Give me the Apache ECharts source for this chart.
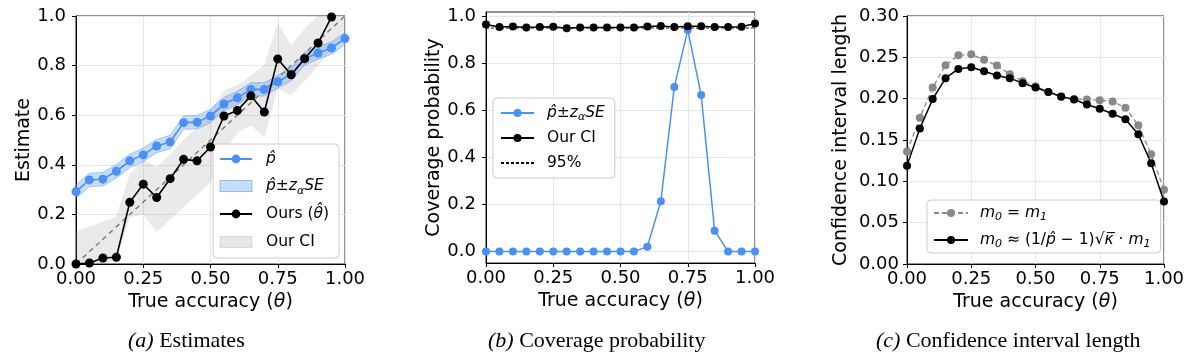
<!DOCTYPE html>
<html>
<head>
<meta charset="utf-8">
<script src="https://cdn.jsdelivr.net/npm/echarts@6/dist/echarts.min.js"></script>
<style>
html,body{margin:0;padding:0;background:#fff;}
#chart{width:1200px;height:357px;}
</style>
</head>
<body>
<div id="chart"></div>
<script>
// ---------- data ----------
const xs = [0, 0.05, 0.10, 0.15, 0.20, 0.25, 0.30, 0.35, 0.40, 0.45, 0.50, 0.55, 0.60, 0.65, 0.70, 0.75, 0.80, 0.85, 0.90, 0.95, 1.00];

// (a) Estimates
const pHat     = [0.292, 0.339, 0.342, 0.374, 0.416, 0.440, 0.476, 0.492, 0.570, 0.572, 0.597, 0.645, 0.670, 0.704, 0.704, 0.735, 0.765, 0.828, 0.851, 0.871, 0.909];
const pHatLow  = [0.265, 0.312, 0.315, 0.347, 0.389, 0.413, 0.449, 0.465, 0.543, 0.545, 0.570, 0.618, 0.643, 0.677, 0.677, 0.709, 0.739, 0.802, 0.826, 0.846, 0.885];
const pHatHigh = [0.319, 0.366, 0.369, 0.401, 0.443, 0.467, 0.503, 0.519, 0.597, 0.599, 0.624, 0.672, 0.697, 0.731, 0.731, 0.761, 0.791, 0.854, 0.876, 0.896, 0.933];
const thetaHat = [0.000, 0.004, 0.024, 0.027, 0.249, 0.322, 0.268, 0.344, 0.422, 0.416, 0.472, 0.597, 0.619, 0.678, 0.613, 0.827, 0.763, 0.828, 0.891, 0.996, 1.050];
const ciLow    = [0.000, 0.000, 0.000, 0.020, 0.190, 0.200, 0.130, 0.180, 0.230, 0.280, 0.330, 0.450, 0.530, 0.560, 0.510, 0.710, 0.680, 0.740, 0.800, 0.870, 0.920];
const ciHigh   = [0.130, 0.150, 0.170, 0.190, 0.360, 0.420, 0.390, 0.440, 0.500, 0.550, 0.620, 0.700, 0.720, 0.760, 0.800, 0.970, 0.880, 0.950, 1.000, 1.050, 1.080];
const diagX    = [0, 1];
const diagY    = [0, 1];

// (b) Coverage probability
const covNaive = [0, 0, 0, 0, 0, 0, 0, 0, 0, 0, 0, 0, 0.021, 0.214, 0.699, 0.942, 0.665, 0.089, 0, 0, 0];
const covOurs  = [0.965, 0.954, 0.956, 0.952, 0.954, 0.955, 0.949, 0.952, 0.952, 0.952, 0.952, 0.952, 0.956, 0.958, 0.954, 0.957, 0.957, 0.954, 0.954, 0.955, 0.969];
const nominalX = [0, 1];
const nominalY = [0.95, 0.95];

// (c) Confidence interval length
const lenEqual  = [0.136, 0.177, 0.2135, 0.2405, 0.2525, 0.2537, 0.247, 0.240, 0.2296, 0.2212, 0.215, 0.208, 0.202, 0.1995, 0.199, 0.198, 0.1966, 0.189, 0.1677, 0.1327, 0.0897];
const lenApprox = [0.119, 0.164, 0.1995, 0.2248, 0.236, 0.238, 0.2332, 0.228, 0.2248, 0.2188, 0.2135, 0.208, 0.2027, 0.199, 0.193, 0.1878, 0.1818, 0.175, 0.157, 0.1219, 0.0756];

// tick labels
const xTicks  = [0, 0.25, 0.5, 0.75, 1.0];
const yTicksA = [0, 0.2, 0.4, 0.6, 0.8, 1.0];
const yTicksB = [0, 0.2, 0.4, 0.6, 0.8, 1.0];
const yTicksC = [0, 0.05, 0.10, 0.15, 0.20, 0.25, 0.30];

// legend / caption texts
const legendText = {
  a_p: '{i|p̂}',
  a_band: '{i|p̂}±{i|z}{sub|α}{i|SE}',
  a_theta: 'Ours ({i|θ̂})',
  a_ci: 'Our CI',
  b_naive: '{i|p̂}±{i|z}{sub|α}{i|SE}',
  b_ours: 'Our CI',
  b_nom: '95%',
  c_eq: '{i|m}{sub|0} = {i|m}{sub|1}',
  c_approx: '{i|m}{sub|0} ≈ (1/{i|p̂} − 1)√{i|κ̅} · {i|m}{sub|1}'
};
const captions = ['{i|(a)} Estimates', '{i|(b)} Coverage probability', '{i|(c)} Confidence interval length'];
const xTitle = '{n|True accuracy (}{i|θ}{n|)}';
const yTitles = ['Estimate', 'Coverage probability', 'Confidence interval length'];

// ---------- helpers ----------
const FONT = 'DejaVu Sans';
const pairs = (x, y) => x.map((v, i) => [v, y[i]]);
const BLUE = '#4a90f5';
const GRAYL = '#888888';

const richLegend = {
  i: {fontStyle: 'italic', fontFamily: FONT, fontSize: 15.5, lineHeight: 20, color: '#000'},
  sub: {fontStyle: 'italic', fontFamily: FONT, fontSize: 11, lineHeight: 11, verticalAlign: 'bottom', color: '#000'}
};

// filled band between lo and hi, drawn through the axis scales (api.coord)
function bandSeries(name, gi, lo, hi, fill, stroke, z) {
  return {
    type: 'custom', name: name, xAxisIndex: gi, yAxisIndex: gi, z: z, silent: true,
    itemStyle: {color: fill},
    data: xs.map((x, i) => [x, lo[i], hi[i]]),
    encode: {x: 0, y: [1, 2]},
    renderItem: function (params, api) {
      if (params.dataIndex !== 0) return null;
      const upper = xs.map((x, i) => api.coord([x, hi[i]]));
      const lower = xs.map((x, i) => api.coord([x, lo[i]])).reverse();
      const cs = params.coordSys;
      return {
        type: 'polygon',
        shape: {points: upper.concat(lower)},
        style: {fill: fill, stroke: stroke, lineWidth: 1},
        clipPath: {type: 'rect', shape: {x: cs.x, y: cs.y, width: cs.width, height: cs.height}}
      };
    }
  };
}

function xAxisCfg(gi) {
  return {
    type: 'value', gridIndex: gi, min: 0, max: 1, interval: 0.25,
    name: xTitle, nameLocation: 'middle', nameGap: 26,
    nameTextStyle: {fontFamily: FONT, fontSize: 19, color: '#000',
      rich: {n: {fontFamily: FONT, fontSize: 19, color: '#000'}, i: {fontFamily: FONT, fontSize: 19, fontStyle: 'italic', color: '#000'}}},
    axisLine: {show: true, onZero: false, lineStyle: {color: '#000', width: 1}},
    axisTick: {show: true, inside: false, length: 4, lineStyle: {color: '#000'}},
    axisLabel: {fontFamily: FONT, fontSize: 18, color: '#000', margin: 6,
      formatter: v => xTicks.some(t => Math.abs(t - v) < 1e-9) ? v.toFixed(2) : ''},
    splitLine: {show: true, lineStyle: {color: '#e6e6e6', width: 1}}
  };
}
function yAxisCfg(gi, opts) {
  const base = {
    type: 'value', gridIndex: gi,
    name: yTitles[gi], nameLocation: 'middle', nameRotate: 90,
    nameTextStyle: {fontFamily: FONT, fontSize: 19, color: '#000'},
    axisLine: {show: true, onZero: false, lineStyle: {color: '#000', width: 1}},
    axisTick: {show: true, inside: false, length: 4, lineStyle: {color: '#000'}},
    axisLabel: {fontFamily: FONT, fontSize: 18, color: '#000', margin: 9},
    splitLine: {show: true, lineStyle: {color: '#e6e6e6', width: 1}}
  };
  return Object.assign(base, opts);
}

const chart = echarts.init(document.getElementById('chart'), null, {renderer: 'canvas'});

const option = {
  backgroundColor: '#fff',
  animation: false,
  title: [
    {text: captions[0], left: 128, top: 330},
    {text: captions[1], left: 488, top: 330},
    {text: captions[2], left: 876, top: 330}
  ].map(t => Object.assign(t, {
    padding: 0,
    textStyle: {fontFamily: 'Liberation Serif', fontSize: 22, fontWeight: 'normal', color: '#000',
      rich: {i: {fontFamily: 'Liberation Serif', fontSize: 22, fontStyle: 'italic', color: '#000'}}}
  })),
  grid: [
    {left: 76, top: 16, width: 269, height: 248, show: true, borderColor: '#222', borderWidth: 1, backgroundColor: 'transparent'},
    {left: 486, top: 12, width: 269, height: 251, show: true, borderColor: '#222', borderWidth: 1, backgroundColor: 'transparent'},
    {left: 907, top: 16, width: 257, height: 248, show: true, borderColor: '#222', borderWidth: 1, backgroundColor: 'transparent'}
  ],
  xAxis: [xAxisCfg(0), xAxisCfg(1), xAxisCfg(2)],
  yAxis: [
    yAxisCfg(0, {min: 0, max: 1, interval: 0.2, nameGap: 42,
      axisLabel: {fontFamily: FONT, fontSize: 18, color: '#000', margin: 10, formatter: v => v.toFixed(1)}}),
    yAxisCfg(1, {min: -0.0485, max: 1.018, nameGap: 42,
      axisTick: {show: true, inside: false, length: 4, lineStyle: {color: '#000'}, customValues: yTicksB},
      axisLabel: {fontFamily: FONT, fontSize: 18, color: '#000', margin: 10, customValues: yTicksB, formatter: v => v.toFixed(1)}}),
    yAxisCfg(2, {min: 0, max: 0.3, interval: 0.05, nameGap: 56,
      axisLabel: {fontFamily: FONT, fontSize: 18, color: '#000', margin: 8, formatter: v => v.toFixed(2)}})
  ],
  legend: [
    {
      orient: 'vertical', left: 213, top: 144, padding: [5, 10, 5, 6], itemGap: 6,
      itemWidth: 32, itemHeight: 11,
      backgroundColor: '#fff', borderColor: '#cccccc', borderWidth: 1, borderRadius: 4,
      data: [
        {name: 'a_p'},
        {name: 'a_band', icon: 'rect', itemStyle: {color: 'rgba(74,144,245,0.3)', borderColor: 'rgba(74,144,245,0.55)', borderWidth: 1}},
        {name: 'a_theta'},
        {name: 'a_ci', icon: 'rect', itemStyle: {color: 'rgba(128,128,128,0.18)', borderColor: 'rgba(128,128,128,0.22)', borderWidth: 1}}
      ],
      formatter: n => legendText[n],
      textStyle: {fontFamily: FONT, fontSize: 15.5, color: '#000', lineHeight: 22, padding: [0, 0, 0, 9], rich: richLegend}
    },
    {
      orient: 'vertical', left: 493, top: 98, padding: [5, 10, 5, 7], itemGap: 5,
      itemWidth: 33, itemHeight: 10,
      backgroundColor: '#fff', borderColor: '#cccccc', borderWidth: 1, borderRadius: 4,
      data: [{name: 'b_naive'}, {name: 'b_ours'}, {name: 'b_nom', itemStyle: {opacity: 0}}],
      formatter: n => legendText[n],
      textStyle: {fontFamily: FONT, fontSize: 15.5, color: '#000', lineHeight: 20, padding: [0, 0, 0, 8], rich: richLegend}
    },
    {
      orient: 'vertical', left: 927, top: 200, padding: [3, 10, 3, 6], itemGap: 7,
      itemWidth: 34, itemHeight: 10,
      backgroundColor: '#fff', borderColor: '#cccccc', borderWidth: 1, borderRadius: 4,
      data: [{name: 'c_eq'}, {name: 'c_approx'}],
      formatter: n => legendText[n],
      textStyle: {fontFamily: FONT, fontSize: 15.5, color: '#000', lineHeight: 20, padding: [0, 0, 0, 7], rich: richLegend}
    }
  ],
  series: [
    // ----- (a) -----
    bandSeries('a_ci', 0, ciLow, ciHigh, 'rgba(128,128,128,0.17)', 'rgba(128,128,128,0.05)', 1),
    bandSeries('a_band', 0, pHatLow, pHatHigh, 'rgba(74,144,245,0.30)', 'rgba(74,144,245,0.45)', 2),
    {type: 'line', name: 'a_diag', xAxisIndex: 0, yAxisIndex: 0, data: pairs(diagX, diagY),
      symbol: 'none', lineStyle: {color: '#808080', width: 1.5, type: [5, 4]}, silent: true, z: 3},
    {type: 'line', name: 'a_p', xAxisIndex: 0, yAxisIndex: 0, data: pairs(xs, pHat),
      symbol: 'circle', symbolSize: 9, lineStyle: {color: BLUE, width: 1.6}, itemStyle: {color: BLUE}, z: 4},
    {type: 'line', name: 'a_theta', xAxisIndex: 0, yAxisIndex: 0, data: pairs(xs, thetaHat),
      symbol: 'circle', symbolSize: 9, lineStyle: {color: '#000', width: 1.6}, itemStyle: {color: '#000'}, z: 5},
    // ----- (b) -----
    {type: 'line', name: 'b_naive', xAxisIndex: 1, yAxisIndex: 1, data: pairs(xs, covNaive),
      symbol: 'circle', symbolSize: 8, lineStyle: {color: BLUE, width: 1.5}, itemStyle: {color: BLUE}, z: 3},
    {type: 'line', name: 'b_ours', xAxisIndex: 1, yAxisIndex: 1, data: pairs(xs, covOurs),
      symbol: 'circle', symbolSize: 8, lineStyle: {color: '#000', width: 1.5}, itemStyle: {color: '#000'}, z: 4},
    {type: 'line', name: 'b_nom', xAxisIndex: 1, yAxisIndex: 1, data: pairs(nominalX, nominalY),
      symbol: 'none', lineStyle: {color: '#000', width: 0.9, type: [3, 2]}, itemStyle: {color: '#000'}, silent: true, z: 5},
    // ----- (c) -----
    {type: 'line', name: 'c_eq', xAxisIndex: 2, yAxisIndex: 2, data: pairs(xs, lenEqual),
      symbol: 'circle', symbolSize: 8, lineStyle: {color: GRAYL, width: 1.3, type: [5, 3]}, itemStyle: {color: GRAYL}, z: 3},
    {type: 'line', name: 'c_approx', xAxisIndex: 2, yAxisIndex: 2, data: pairs(xs, lenApprox),
      symbol: 'circle', symbolSize: 8, lineStyle: {color: '#000', width: 1.5}, itemStyle: {color: '#000'}, z: 4}
  ]
};
chart.setOption(option);
</script>
</body>
</html>
